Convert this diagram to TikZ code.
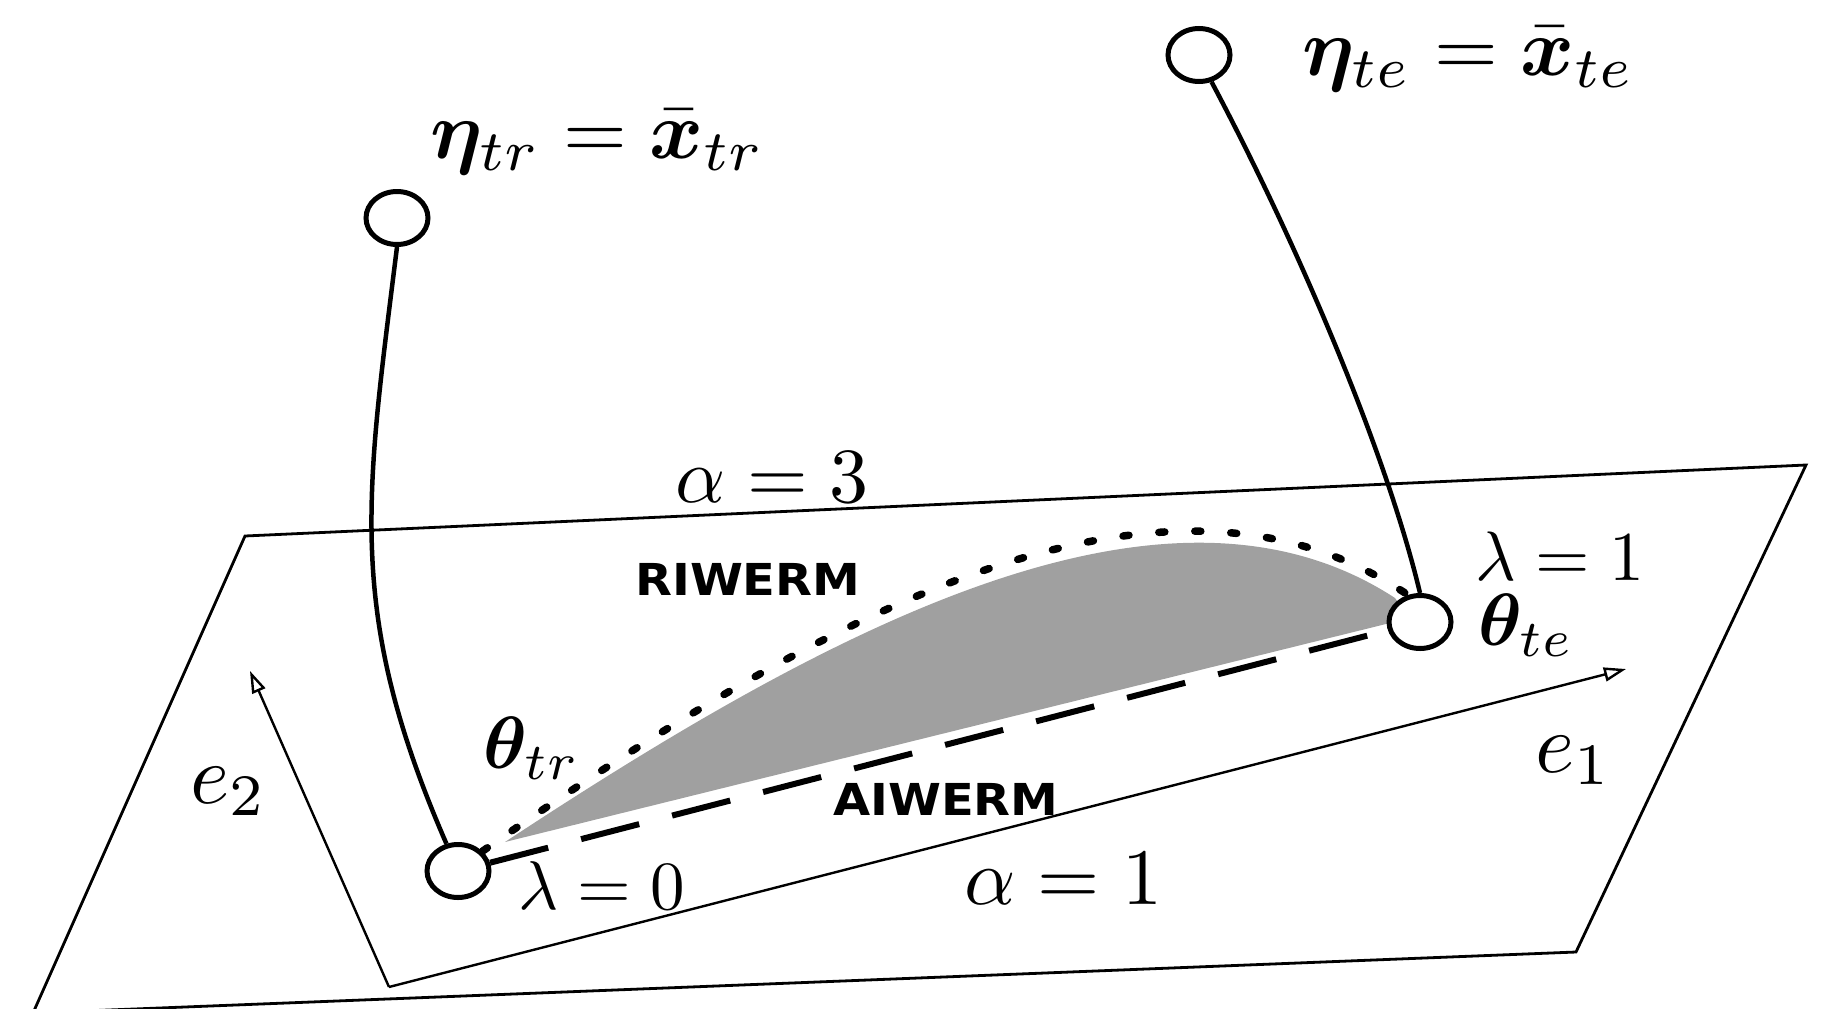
\documentclass[tikz,border=0pt]{standalone}
\usepackage{amsmath}
\usepackage{bm}
\usepackage{graphicx}
\usepackage{fontspec}
\newfontfamily\labfont{DejaVu Sans}
\usetikzlibrary{shapes.geometric,arrows.meta}
\pgfdeclarelayer{bg}
\pgfsetlayers{bg,main}
\definecolor{airgray}{RGB}{160,160,160}
\newcommand{\bigmath}[2]{\scalebox{#1}{$#2$}}
\begin{document}
\begin{tikzpicture}[x=1pt,y=-1pt,
  plane/.style={line width=2.8pt, line join=miter},
  circ/.style={draw, ellipse, line width=5pt, minimum width=62pt, minimum height=53pt, inner sep=0pt, fill=white},
  link/.style={line width=4.5pt},
  axisline/.style={line width=2.4pt, -{Triangle[open,length=22pt,width=14pt,line width=2.4pt]}},
  mlab/.style={inner sep=0pt, anchor=base west},
  wlab/.style={inner sep=0pt, anchor=base west}
]
\useasboundingbox (0,0) rectangle (1847,1009);

% circles
\node[circ] (ntr) at (397,218) {};
\node[circ] (nte) at (1199,55) {};
\node[circ] (ttr) at (458,871) {};
\node[circ] (tte) at (1420,622) {};

\coordinate (o) at (389,987);
\coordinate (e2tip) at (250,671);
\coordinate (e1tip) at (1626,669);

\begin{pgfonlayer}{bg}
  \draw[plane] (245,536) -- (1806,465) -- (1576,952) -- (33,1013) -- cycle;
  \draw[axisline] (o) -- (e2tip);
  \draw[axisline] (o) -- (e1tip);
  \fill[airgray] (505,842) .. controls (830,628) and (1165,448) .. (1395,598)
     .. controls (1402,606) and (1398,618) .. (1390,623) -- cycle;
\end{pgfonlayer}

% AIWERM (dashed) and RIWERM (dotted) paths
\draw[line width=6pt, dash pattern=on 60pt off 34pt] (ttr) -- (tte);
\draw[line width=7.5pt, line cap=round, dash pattern=on 6pt off 30pt]
  (ttr.39) .. controls (817,618) and (1159,427) .. (tte.114);

% connectors
\draw[link] (ntr.south) .. controls (366,497) and (345,611) .. (ttr.113);
\draw[link] (nte.-65) .. controls (1293,235) and (1385,447) .. (tte.north);

% labels
\node[mlab] (lntr) at (430,158) {\bigmath{8.2}{\bm{\eta}_{tr} = \bar{\bm{x}}_{tr}}};
\node[mlab] (lnte) at (1302,75) {\bigmath{8.2}{\bm{\eta}_{te} = \bar{\bm{x}}_{te}}};
\node[mlab] (la3) at (675,502) {\bigmath{7.8}{\alpha = 3}};
\node[mlab] (la1) at (964,904) {\bigmath{8.0}{\alpha = 1}};
\node[mlab] (ll0) at (518,909) {\bigmath{6.9}{\lambda = 0}};
\node[mlab] (ll1) at (1475,580) {\bigmath{7.0}{\lambda = 1}};
\node[mlab] (lttr) at (483,768) {\bigmath{7.4}{\bm{\theta}_{tr}}};
\node[mlab] (ltte) at (1478,645) {\bigmath{7.4}{\bm{\theta}_{te}}};
\node[mlab] (le1) at (1535,772) {\bigmath{8.4}{e_1}};
\node[mlab] (le2) at (190,803) {\bigmath{8.4}{e_2}};
\node[wlab] (lri) at (635,595) {\scalebox{4.8}[4.4]{\labfont\bfseries RIWERM}};
\node[wlab] (lai) at (833,815) {\scalebox{4.8}[4.4]{\labfont\bfseries AIWERM}};
\end{tikzpicture}
\end{document}
